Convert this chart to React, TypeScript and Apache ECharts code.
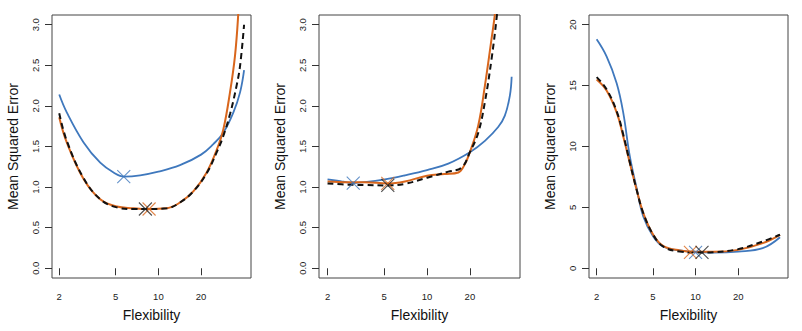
import React, { useEffect, useRef } from "react";
import * as echarts from "echarts";

// Panel 1
const flex1Blue = [2.0, 2.26, 2.97, 3.89, 4.83, 5.74, 7.44, 10, 14.2, 20, 24.4, 28.7, 33.8, 37.7, 40.2];
const mse1Blue = [2.14, 1.92, 1.55, 1.3, 1.18, 1.13, 1.145, 1.19, 1.27, 1.4, 1.53, 1.67, 1.92, 2.17, 2.44];
const flex1Orange = [2.0, 2.26, 2.97, 3.89, 5.09, 6.67, 8.28, 11.5, 14.2, 17.7, 21.9, 25.8, 28.7, 32.0, 34.7, 36.6, 40];
const mse1Orange = [1.86, 1.55, 1.1, 0.85, 0.76, 0.74, 0.73, 0.74, 0.81, 0.95, 1.18, 1.46, 1.71, 2.17, 2.62, 3.14, 4.3];
const flex1Cv = [2.0, 2.26, 2.97, 3.89, 5.09, 6.67, 8.28, 11.5, 14.2, 17.7, 21.9, 25.8, 28.7, 32.0, 35.6, 37.7, 40.2];
const mse1Cv = [1.91, 1.57, 1.11, 0.85, 0.75, 0.73, 0.73, 0.74, 0.81, 0.95, 1.17, 1.43, 1.63, 1.9, 2.25, 2.5, 3.0];
const min1 = { blue: [5.7, 1.13], orange: [8.6, 0.73], black: [8.1, 0.73] };

// Panel 2
const flex2Blue = [2, 2.51, 3.03, 3.66, 5.06, 6.99, 10, 14.1, 20, 25.5, 31.6, 35.2, 38.2, 39.3];
const mse2Blue = [1.095, 1.07, 1.05, 1.06, 1.095, 1.145, 1.21, 1.29, 1.43, 1.57, 1.74, 1.88, 2.13, 2.36];
const flex2Orange = [2, 2.79, 3.66, 5.28, 6.99, 10, 13.3, 16.6, 18.4, 20, 22.9, 25.5, 28.4, 30.0, 31.5];
const mse2Orange = [1.07, 1.06, 1.06, 1.045, 1.07, 1.14, 1.16, 1.18, 1.28, 1.43, 1.76, 2.25, 2.83, 3.14, 3.6];
const flex2Cv = [2, 2.79, 3.66, 5.28, 6.99, 10, 14.1, 17.5, 20, 22.9, 25.5, 28.4, 30.8, 32.5];
const mse2Cv = [1.045, 1.03, 1.025, 1.02, 1.04, 1.115, 1.19, 1.24, 1.43, 1.67, 2.05, 2.58, 3.08, 3.5];
const min2 = { blue: [3.03, 1.05], orange: [5.3, 1.045], black: [5.3, 1.02] };

// Panel 3
const flex3 = [2.0, 2.35, 2.77, 3.08, 3.43, 3.83, 4.27, 5.02, 5.89, 7.72, 10.1, 13.3, 20, 29.8, 39.5];
const mse3Blue = [18.8, 17.4, 15.2, 12.8, 9.2, 6.6, 4.26, 2.61, 1.79, 1.46, 1.32, 1.29, 1.37, 1.65, 2.55];
const mse3Orange = [15.5, 14.6, 12.8, 10.85, 8.65, 6.46, 4.53, 2.75, 1.84, 1.46, 1.35, 1.35, 1.51, 2.06, 2.75];
const mse3Cv = [15.7, 14.7, 12.9, 11.0, 8.7, 6.46, 4.53, 2.75, 1.79, 1.37, 1.29, 1.32, 1.57, 2.2, 2.75];
const min3 = { blue: [10.0, 1.3], orange: [9.2, 1.3], black: [11.1, 1.3] };

const xTicks = [2, 5, 10, 20];
const yTicks12 = [0, 0.5, 1, 1.5, 2, 2.5, 3];
const yTicks3 = [0, 5, 10, 15, 20];

const BLUE = "#3f78bd";
const ORANGE = "#d9661c";
const BLACK = "#111111";
const FONT = "Liberation Sans, Arial, sans-serif";
const XSYM = "path://M0,0L10,10M10,0L0,10";

const pairs = (xs: number[], ys: number[]) => xs.map((x, i) => [Math.log10(x), ys[i]]);

export default function App() {
  const ref = useRef<HTMLDivElement>(null);
  useEffect(() => {
    if (!ref.current) return;
    const chart = echarts.init(ref.current, null, { renderer: "svg" });
    const grids = [
      { left: 52, top: 15, width: 199, height: 263 },
      { left: 319, top: 15, width: 201, height: 263 },
      { left: 589, top: 15, width: 199, height: 263 },
    ];
    const xMins = [0.25, 0.241, 0.247];
    const yRanges = [
      [-0.12, 3.12, yTicks12, (v: number) => v.toFixed(1)],
      [-0.12, 3.12, yTicks12, (v: number) => v.toFixed(1)],
      [-0.8, 20.8, yTicks3, (v: number) => String(v)],
    ] as any[];
    const panels = [
      { blue: pairs(flex1Blue, mse1Blue), orange: pairs(flex1Orange, mse1Orange), cv: pairs(flex1Cv, mse1Cv), mins: min1 },
      { blue: pairs(flex2Blue, mse2Blue), orange: pairs(flex2Orange, mse2Orange), cv: pairs(flex2Cv, mse2Cv), mins: min2 },
      { blue: pairs(flex3, mse3Blue), orange: pairs(flex3, mse3Orange), cv: pairs(flex3, mse3Cv), mins: min3 },
    ];
    const xAxis = grids.map((_, i) => ({
      type: "value",
      gridIndex: i,
      min: xMins[i],
      max: 1.653,
      name: "Flexibility",
      nameLocation: "middle",
      nameGap: 30,
      nameTextStyle: { fontFamily: FONT, fontSize: 14, color: "#111", verticalAlign: "top" },
      axisLine: { show: false },
      splitLine: { show: false },
      axisTick: { show: true, inside: false, length: 7, customValues: xTicks.map((t) => Math.log10(t)), lineStyle: { color: "#333" } },
      axisLabel: {
        customValues: xTicks.map((t) => Math.log10(t)),
        formatter: (v: number) => String(Math.round(Math.pow(10, v))),
        fontFamily: FONT,
        fontSize: 9.5,
        color: "#222",
        margin: 13,
      },
    }));
    const yAxis = grids.map((_, i) => ({
      type: "value",
      gridIndex: i,
      min: yRanges[i][0],
      max: yRanges[i][1],
      name: "Mean Squared Error",
      nameLocation: "middle",
      nameGap: 32,
      nameTextStyle: { fontFamily: FONT, fontSize: 14, color: "#111" },
      axisLine: { show: false },
      splitLine: { show: false },
      axisTick: { show: true, inside: false, length: 7, customValues: yRanges[i][2], lineStyle: { color: "#333" } },
      axisLabel: {
        customValues: yRanges[i][2],
        formatter: yRanges[i][3],
        rotate: 90,
        fontFamily: FONT,
        fontSize: 9.5,
        color: "#222",
        margin: 12,
      },
    }));
    const series: any[] = [];
    panels.forEach((p, i) => {
      const base = { type: "line", xAxisIndex: i, yAxisIndex: i, showSymbol: false, smooth: 0.4, clip: true, silent: true };
      series.push({ ...base, name: "true", data: p.blue, lineStyle: { color: BLUE, width: 1.8 }, z: 2 });
      series.push({ ...base, name: "10-fold", data: p.orange, lineStyle: { color: ORANGE, width: 2 }, z: 3 });
      series.push({ ...base, name: "LOOCV", data: p.cv, lineStyle: { color: BLACK, width: 2, type: [6, 4] }, z: 4 });
      const mk = (pt: number[], color: string, z: number) => ({
        type: "scatter",
        xAxisIndex: i,
        yAxisIndex: i,
        symbol: XSYM,
        symbolSize: 13,
        silent: true,
        z,
        data: [[Math.log10(pt[0]), pt[1]]],
        itemStyle: { color: "none", borderColor: color, borderWidth: 1.1 },
      });
      series.push(mk(p.mins.blue, BLUE, 5));
      series.push(mk(p.mins.orange, ORANGE, 6));
      series.push(mk(p.mins.black, "#222", 7));
    });
    chart.setOption({
      animation: false,
      backgroundColor: "#ffffff",
      grid: grids.map((g) => ({ ...g, show: true, borderColor: "#444", borderWidth: 1, backgroundColor: "transparent" })),
      xAxis,
      yAxis,
      series,
    } as any);
    return () => chart.dispose();
  }, []);
  return <div ref={ref} style={{ position: "absolute", left: 0, top: 0, width: 802, height: 331 }} />;
}
